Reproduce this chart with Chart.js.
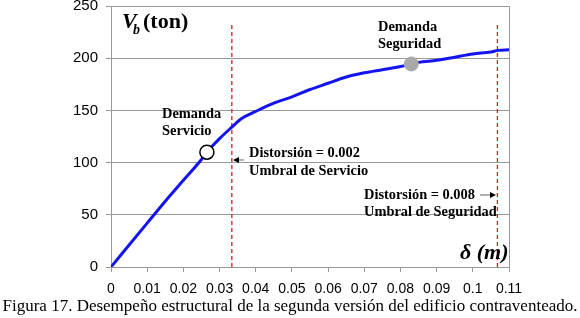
<!DOCTYPE html>
<html>
<head>
<meta charset="utf-8">
<script src="https://cdn.jsdelivr.net/npm/chart.js@4.4.1/dist/chart.umd.min.js"></script>
<style>
  body { margin: 0; background: #fff; overflow: hidden; }
  #caja { position: relative; width: 580px; height: 318px; overflow: hidden; }
  #grafico { position: absolute; left: 0; top: -11px; }
  #pie { position: absolute; left: 0; top: 296px; width: 580px; text-align: center; line-height: 20px;
         font-family: "Liberation Serif", "Times New Roman", serif; font-size: 17px; color: #000; white-space: nowrap; }
</style>
</head>
<body>
<div id="caja">
  <canvas id="grafico" width="580" height="329"></canvas>
  <div id="pie">Figura 17. Desempeño estructural de la segunda versión del edificio contraventeado.</div>
</div>
<script>
// curva de capacidad: desplazamiento (m) vs cortante basal (ton)
const desplazamiento = [0, 0.005, 0.01, 0.015, 0.02, 0.025, 0.0265, 0.03, 0.0334, 0.036, 0.04, 0.045, 0.05, 0.055, 0.06, 0.065, 0.07, 0.075, 0.08, 0.085, 0.09, 0.095, 0.1, 0.105, 0.107, 0.11]
const cortante = [0, 21, 42, 63, 83, 103, 110, 123, 134, 142, 149, 157, 163, 170, 176, 182, 186, 189, 192, 196, 198, 201, 204, 206, 207.5, 208]

const demandaServicio = [0.0265, 110]
const demandaSeguridad = [0.083, 194.5]
const umbrales = [0.0334, 0.1068]
const alturaUmbral = 234

const ticksX = [0, 0.01, 0.02, 0.03, 0.04, 0.05, 0.06, 0.07, 0.08, 0.09, 0.1, 0.11]
const ticksY = [0, 50, 100, 150, 200, 250]

const puntosCurva = desplazamiento.map((d, i) => ({ x: d, y: cortante[i] }))

const lineasUmbral = umbrales.map(u => ({
    type: 'line',
    data: [{ x: u, y: 0 }, { x: u, y: alturaUmbral }],
    borderColor: '#e8141c',
    borderWidth: 1.3,
    borderDash: [4, 3],
    pointRadius: 0,
    order: 3
}))

const serif = '"Liberation Serif", "Times New Roman", serif'
// el canvas esta 11px arriba de la pagina
const dy = 11

const textos = {
    id: 'textos',
    afterDatasetsDraw(chart) {
        const { ctx, chartArea } = chart
        ctx.save()

        // marco superior y derecho
        ctx.strokeStyle = '#999'
        ctx.lineWidth = 1
        ctx.beginPath()
        ctx.moveTo(chartArea.left, chartArea.top + 0.5)
        ctx.lineTo(chartArea.right + 0.5, chartArea.top + 0.5)
        ctx.lineTo(chartArea.right + 0.5, chartArea.bottom)
        ctx.stroke()

        ctx.translate(0, dy)
        ctx.fillStyle = '#000'
        ctx.textBaseline = 'middle'
        ctx.textAlign = 'left'

        // V_b (ton)
        ctx.font = 'italic bold 22px ' + serif
        ctx.fillText('V', 122, 22)
        ctx.font = 'italic bold 14px ' + serif
        ctx.fillText('b', 133, 30)
        ctx.font = 'bold 22px ' + serif
        ctx.fillText('(ton)', 143, 22)

        // δ (m)
        ctx.font = 'italic bold 22px ' + serif
        ctx.fillText('δ (m)', 460, 253)

        ctx.font = 'bold 14.4px ' + serif
        ctx.fillText('Demanda', 162, 114)
        ctx.fillText('Servicio', 162, 131)
        ctx.fillText('Demanda', 378, 27)
        ctx.fillText('Seguridad', 378, 44)
        ctx.fillText('Distorsión = 0.002', 249, 153)
        ctx.fillText('Umbral de Servicio', 249, 171)
        ctx.fillText('Distorsión = 0.008', 364, 195)
        ctx.fillText('Umbral de Seguridad', 364, 212)

        // flechas
        ctx.lineWidth = 1.5
        ctx.beginPath()
        ctx.moveTo(244, 160); ctx.lineTo(236, 160)
        ctx.moveTo(480, 195); ctx.lineTo(491, 195)
        ctx.stroke()
        ctx.beginPath()
        ctx.moveTo(233, 160); ctx.lineTo(239, 157); ctx.lineTo(239, 163); ctx.closePath()
        ctx.moveTo(496, 195); ctx.lineTo(490, 192); ctx.lineTo(490, 198); ctx.closePath()
        ctx.fill()

        ctx.restore()
    }
}

const grafico = document.getElementById('grafico')
new Chart(grafico, {
    type: 'line',
    data: {
        datasets: [
            {
                data: [{ x: demandaServicio[0], y: demandaServicio[1] }],
                showLine: false,
                pointRadius: 7,
                pointBackgroundColor: '#fff',
                pointBorderColor: '#000',
                pointBorderWidth: 1.5,
                order: 0
            },
            {
                data: [{ x: demandaSeguridad[0], y: demandaSeguridad[1] }],
                showLine: false,
                pointRadius: 7,
                pointBackgroundColor: '#a9a9a9',
                pointBorderColor: '#a9a9a9',
                pointBorderWidth: 1,
                order: 1
            },
            {
                data: puntosCurva,
                borderColor: '#1414f0',
                borderWidth: 3,
                pointRadius: 0,
                cubicInterpolationMode: 'monotone',
                order: 2
            },
            ...lineasUmbral
        ]
    },
    options: {
        responsive: false,
        animation: false,
        devicePixelRatio: 1,
        layout: { padding: { left: 0, right: 71, top: 0, bottom: 0 } },
        plugins: {
            legend: { display: false },
            tooltip: { enabled: false }
        },
        scales: {
            x: {
                type: 'linear',
                min: 0,
                max: 0.11,
                afterBuildTicks: s => { s.ticks = ticksX.map(v => ({ value: v })) },
                afterFit: s => { s.height = 51 },
                ticks: {
                    color: '#000',
                    font: { family: '"Liberation Sans", Arial, sans-serif', size: 14 },
                    padding: 9,
                    maxRotation: 0,
                    autoSkip: false,
                    callback: v => String(+v.toFixed(2))
                },
                grid: { drawOnChartArea: false, drawTicks: true, tickLength: 5, color: '#999' },
                border: { color: '#999' }
            },
            y: {
                min: 0,
                max: 250,
                afterBuildTicks: s => { s.ticks = ticksY.map(v => ({ value: v })) },
                afterFit: s => { s.width = 111 },
                ticks: {
                    color: '#000',
                    font: { family: '"Liberation Sans", Arial, sans-serif', size: 15 },
                    padding: 8
                },
                grid: { color: '#999', tickLength: 5 },
                border: { color: '#999' }
            }
        }
    },
    plugins: [textos]
})
</script>
</body>
</html>
